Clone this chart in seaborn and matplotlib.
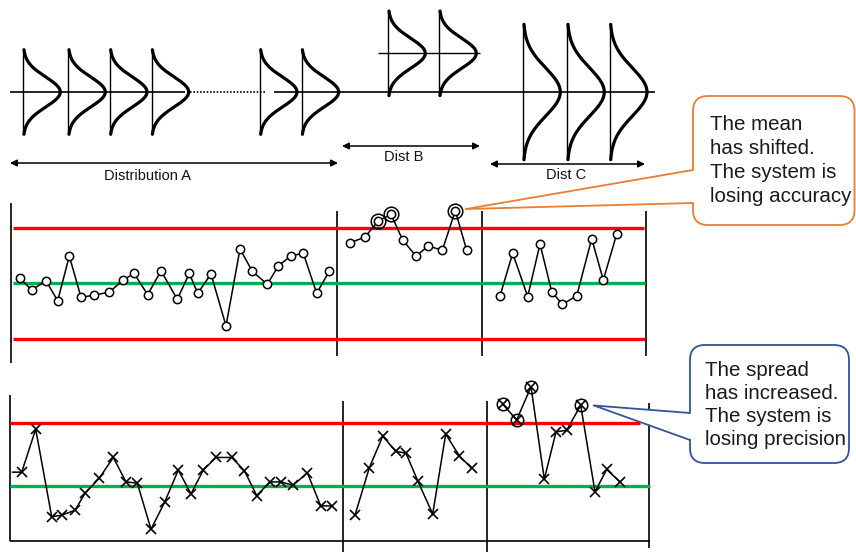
import numpy as np
import seaborn as sns
import matplotlib.pyplot as plt
from matplotlib.patches import FancyBboxPatch, Polygon

# ---- data ----
# x-bar chart: sample times and sample means (sigma units)
mean_t_a = [20, 31.7, 46, 57.7, 69.3, 81, 94.3, 109.3, 123.3, 134, 147.7, 161, 177.3,
            189.3, 197.7, 211, 226, 240, 252.3, 267.3, 278.3, 290.7, 303.3, 316.7, 329.3]
mean_a = [0.25, -0.38, 0.12, -0.96, 1.46, -0.77, -0.66, -0.49, 0.16, 0.52, -0.63, 0.66, -0.88,
          0.52, -0.56, 0.49, -2.32, 1.84, 0.63, -0.07, 0.92, 1.46, 1.61, -0.56, 0.65]
mean_t_b = [350, 364.7, 378.3, 391, 402.7, 416, 428.3, 442.3, 455.3, 466.7]
mean_b = [2.18, 2.47, 3.35, 3.71, 2.32, 1.46, 2.0, 1.77, 3.91, 1.77]
mean_t_c = [500, 512.7, 527.7, 540, 551.7, 562.3, 576.7, 591.7, 603.3, 616.7]
mean_c = [-0.70, 1.61, -0.74, 2.11, -0.47, -1.15, -0.70, 2.39, 0.16, 2.65]
mean_cl, mean_ucl, mean_lcl = 0.0, 3.0, -3.0

# range chart: sample times and sample ranges (units of R-bar)
range_t_a = [12.3, 21.7, 35.7, 51.7, 61.7, 75, 85, 99.3, 113.3, 126, 137.3, 151, 164.7,
             178.3, 191, 203.3, 216, 231.7, 244.3, 256.7, 270, 280.7, 293.3, 307.3, 320.7, 331.7]
range_a = [1.26, 1.26, 2.05, 0.44, 0.47, 0.56, 0.87, 1.15, 1.53, 1.08, 1.06, 0.21, 0.71,
           1.30, 0.86, 1.30, 1.53, 1.53, 1.29, 0.83, 1.08, 1.08, 1.02, 1.25, 0.64, 0.64]
range_t_b = [355, 369.3, 382.7, 396, 406, 417.7, 432.7, 445.7, 459.3, 471.7]
range_b = [0.47, 1.34, 1.92, 1.64, 1.61, 1.10, 0.49, 1.96, 1.56, 1.33]
range_t_c = [502.7, 516.7, 531, 544.3, 556, 566.7, 580.7, 595, 606.7, 620]
range_c = [2.51, 2.22, 2.83, 1.13, 2.00, 2.03, 2.49, 0.90, 1.31, 1.08]
range_cl, range_ucl = 1.0, 2.17

# process distributions: times drawn, mean, sd
dist_t_a = [23.3, 68.3, 110, 151.7, 260, 301.7]
dist_t_b = [388.3, 439.3]
dist_t_c = [523.3, 567.3, 610]
dist_params = {"A": (0.0, 1.0), "B": (2.58, 1.0), "C": (0.0, 1.6)}

labels = ["Distribution A", "Dist B", "Dist C"]
note_mean = ["The mean", "has shifted.", "The system is", "losing accuracy"]
note_spread = ["The spread", "has increased.", "The system is", "losing precision"]

# ---- layout ----
W, H = 856, 552
RED, GREEN = "#FF0000", "#00B050"
ORANGE, BLUE = "#ED7D31", "#2F5597"

sns.set_style("white")
plt.rcParams["font.family"] = ["Liberation Sans", "DejaVu Sans"]

fig = plt.figure(figsize=(W / 100, H / 100), dpi=100)


def layer(base_px=None, ppu=None):
    ax = fig.add_axes([0, 0, 1, 1])
    ax.set_xlim(0, W)
    if base_px is None:
        ax.set_ylim(H, 0)
    else:
        ax.set_ylim((base_px - H) / ppu, base_px / ppu)
    ax.axis("off")
    ax.patch.set_alpha(0)
    return ax


bg = layer()
ax_d = layer(92, 15)
ax_m = layer(283, 18.5)
ax_r = layer(540.7, 54.4)

# distributions
ax_d.hlines(0, 10, 185, color="k", lw=1.2)
ax_d.hlines(0, 190, 266, color="k", lw=1.2, linestyles=(0, (1, 1)))
ax_d.hlines(0, 274, 655, color="k", lw=1.2)
ax_d.hlines(dist_params["B"][0], 378, 480, color="k", lw=1.0)
for key, times in [("A", dist_t_a), ("B", dist_t_b), ("C", dist_t_c)]:
    mu, sd = dist_params[key]
    v = np.linspace(mu - 2.82 * sd, mu + 2.82 * sd, 200)
    for t in times:
        x = t + 37 * np.exp(-0.5 * ((v - mu) / sd) ** 2)
        sns.lineplot(x=x, y=v, sort=False, estimator=None, errorbar=None,
                     color="k", lw=2.3, ax=ax_d)
        ax_d.vlines(t, v.min(), v.max(), color="k", lw=1.0)

# range arrows and labels
arrow = dict(arrowstyle="<|-|>", color="k", lw=1.1, mutation_scale=10, shrinkA=0, shrinkB=0)
for (x0, x1, ya, xt, yt), lab in zip([(10, 338, 163, 148, 176),
                                      (342, 480, 146, 404, 157),
                                      (490, 645, 164, 566, 175)], labels):
    bg.annotate("", xy=(x0, ya), xytext=(x1, ya), arrowprops=arrow)
    bg.text(xt, yt, lab, ha="center", va="center", fontsize=10.5, color="#111111")

# x-bar chart
for y, c, x1 in [(mean_ucl, RED, 644), (mean_cl, GREEN, 645), (mean_lcl, RED, 645)]:
    ax_m.hlines(y, 13, x1, color=c, lw=2.4)
bg.vlines(11, 203, 363, color="k", lw=1.2)
for x in (337, 482, 646):
    bg.vlines(x, 211, 356, color="k", lw=1.2)
circ = dict(marker="o", markersize=6, markerfacecolor="white", markeredgecolor="k",
            markeredgewidth=1.1, color="k", lw=1.1)
for t, m in [(mean_t_a, mean_a), (mean_t_b, mean_b), (mean_t_c, mean_c)]:
    sns.lineplot(x=t, y=m, estimator=None, errorbar=None, ax=ax_m, **circ)
    out = [(ti, mi) for ti, mi in zip(t, m) if mi > mean_ucl or mi < mean_lcl]
    if out:
        ox, oy = zip(*out)
        ax_m.plot(ox, oy, ls="none", marker="o", markersize=10.5, markerfacecolor="none",
                  markeredgecolor="k", markeredgewidth=1.1)

# range chart
ax_r.hlines(range_ucl, 10, 640, color=RED, lw=2.4)
ax_r.hlines(range_cl, 10, 650, color=GREEN, lw=2.4)
ax_r.hlines(0, 10, 650, color="k", lw=1.2)
bg.vlines(10, 395, 541, color="k", lw=1.2)
bg.vlines(343.3, 401, 552, color="k", lw=1.2)
bg.vlines(487.3, 401, 552, color="k", lw=1.2)
bg.vlines(649.3, 403, 548, color="k", lw=1.2)
cross = dict(marker="x", markersize=7, markeredgecolor="k", markeredgewidth=1.2, color="k", lw=1.1)
for i, (t, r) in enumerate([(range_t_a, range_a), (range_t_b, range_b), (range_t_c, range_c)]):
    every = list(range(1, len(t))) if i == 0 else None
    sns.lineplot(x=t, y=r, estimator=None, errorbar=None, ax=ax_r, markevery=every, **cross)
    out = [(ti, ri) for ti, ri in zip(t, r) if ri > range_ucl]
    if out:
        ox, oy = zip(*out)
        ax_r.plot(ox, oy, ls="none", marker="o", markersize=9, markerfacecolor="none",
                  markeredgecolor="k", markeredgewidth=1.1)


# callouts
def callout(box, tip, base, color, lines, tx, ty0, dy):
    x0, y0, x1, y1 = box
    bg.add_patch(FancyBboxPatch((x0, y0), x1 - x0, y1 - y0,
                                boxstyle="round,pad=0,rounding_size=15",
                                fc="white", ec=color, lw=1.3, zorder=5))
    bg.add_patch(Polygon([tip, (base[0][0] + 3, base[0][1]), (base[1][0] + 3, base[1][1])],
                         closed=True, fc="white", ec="none", zorder=6))
    for b in base:
        bg.plot([tip[0], b[0]], [tip[1], b[1]], color=color, lw=1.3, zorder=7,
                solid_capstyle="round")
    for k, s in enumerate(lines):
        bg.text(tx, ty0 + k * dy, s, fontsize=14.8, color="#1a1a1a", va="baseline",
                ha="left", zorder=8)


callout((693, 96, 854.5, 225), (466, 209), [(693, 170), (693, 203)], ORANGE,
        note_mean, 710, 130, 24)
callout((690, 345, 849, 463), (594, 405.5), [(690, 413), (690, 440)], BLUE,
        note_spread, 705, 376, 23)

fig.savefig("out.png", dpi=100)
